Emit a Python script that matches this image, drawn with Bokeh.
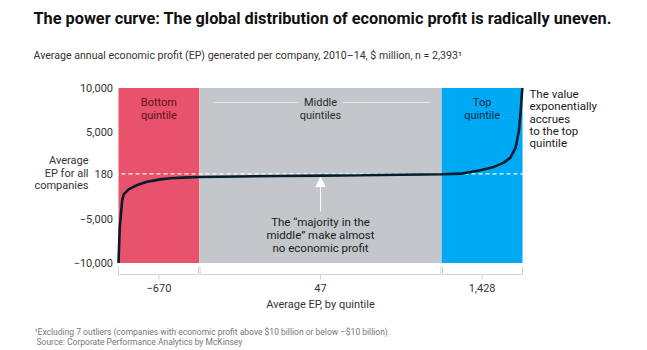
from bokeh.plotting import figure
from bokeh.models import Range1d, Label, Arrow, NormalHead
from bokeh.core.properties import value
from bokeh.embed import file_html
from bokeh.resources import INLINE

# ---------------- data ----------------
quintile_start = [0, 20, 80]
quintile_end = [20, 80, 100]
quintile_colors = ["#E8536B", "#C3C7CC", "#00A9F4"]
quintile_names = [["Bottom", "quintile"], ["Middle", "quintiles"], ["Top", "quintile"]]
quintile_name_colors = ["#5E0F22", "#2A2A2A", "#0B2A4A"]
quintile_centers = [10, 50, 90]
quintile_avg_labels = ["\u2212670", "47", "1,428"]

curve_pct = [0, 0.3, 0.9, 1.3, 2.5, 4.6, 7.1, 10.4, 12.9, 16, 20, 30, 40, 50, 60, 70, 80,
             84.7, 89.6, 92.9, 95.4, 97.0, 98.3, 99.1, 99.5, 99.9, 100]
curve_ep = [-10000, -6000, -2900, -2150, -1580, -1090, -710, -440, -320, -240, -170, -110,
            -60, -15, 30, 85, 150, 210, 600, 980, 1470, 2040, 3190, 5100, 7000, 9700, 10000]

average_ep = 180
y_ticks = [-10000, -5000, 180, 5000, 10000]
y_tick_labels = ["\u221210,000", "\u22125,000", "180", "5,000", "10,000"]

W, H = 647, 350
FONT = "Roboto"

# pixel -> data helpers for annotation placement
def X(px):
    return (px - 118) / 4.04

def Y(py):
    return 20000 - py * 40000 / 350

p = figure(width=W, height=H, output_backend="svg", toolbar_location=None,
           x_range=Range1d(X(0), X(W)), y_range=Range1d(-20000, 20000),
           x_axis_location=None, y_axis_location=None,
           min_border_left=0, min_border_right=0, min_border_top=0, min_border_bottom=0)
p.outline_line_color = None
p.grid.visible = False
p.background_fill_color = "white"
p.border_fill_color = "white"

# y tick labels (value axis)
p.text(x=[X(112.5)] * len(y_ticks), y=y_ticks, text=y_tick_labels, text_align="right",
       text_baseline="middle", text_font=value(FONT), text_font_size="11px",
       text_color="#333333")

# bands
p.quad(left=quintile_start, right=quintile_end, bottom=-10000, top=10000,
       fill_color=quintile_colors, line_color=None)

# band names
for cx, names, col in zip(quintile_centers, quintile_names, quintile_name_colors):
    for i, t in enumerate(names):
        p.add_layout(Label(x=cx, y=Y(102 + 12.5 * i), text=t, text_align="center",
                           text_baseline="middle", text_font=FONT, text_font_size="11px",
                           text_color=col))

# thin white lines around "Middle"
p.segment(x0=[X(213), X(342)], x1=[X(297), X(430)], y0=Y(102), y1=Y(102),
          line_color="white", line_width=0.8, line_alpha=0.7)

# average dashed line
p.segment(x0=[X(114)], x1=[100], y0=average_ep, y1=average_ep,
          line_color="white", line_width=1.2, line_dash="4 3")

# curve
p.line(curve_pct, curve_ep, line_color="#051C2C", line_width=2.6)

# arrow + majority text
p.add_layout(Arrow(end=NormalHead(size=9, fill_color="white", line_color="white"),
                   x_start=50, y_start=Y(211), x_end=50, y_end=Y(177),
                   line_color="white", line_width=1))
for i, t in enumerate(["The \u201cmajority in the", "middle\u201d make almost", "no economic profit"]):
    p.add_layout(Label(x=50, y=Y(221 + 13 * i), text=t, text_align="center",
                       text_baseline="middle", text_font=FONT, text_font_size="11.5px",
                       text_color="#1A1A1A"))

# brackets
gap = 0.2
bx0 = [s + (gap if s > 0 else 0) for s in quintile_start]
bx1 = [e - (gap if e < 100 else 0) for e in quintile_end]
p.segment(x0=bx0, x1=bx1, y0=Y(274), y1=Y(274), line_color="#D2D2D2", line_width=1)
p.segment(x0=bx0 + bx1, x1=bx0 + bx1, y0=Y(266), y1=Y(274), line_color="#D2D2D2", line_width=1)
p.segment(x0=quintile_centers, x1=quintile_centers, y0=Y(274), y1=Y(279),
          line_color="#D2D2D2", line_width=1)
for cx, t in zip(quintile_centers, quintile_avg_labels):
    p.add_layout(Label(x=cx, y=Y(287), text=t, text_align="center", text_baseline="middle",
                       text_font=FONT, text_font_size="11px", text_color="#333333"))
p.add_layout(Label(x=50, y=Y(304), text="Average EP, by quintile", text_align="center",
                   text_baseline="middle", text_font=FONT, text_font_size="11px",
                   text_color="#333333"))

# left annotation
for i, t in enumerate(["Average", "EP for all", "companies"]):
    p.add_layout(Label(x=X(88), y=Y(160 + 12.5 * i), text=t, text_align="right",
                       text_baseline="middle", text_font=FONT, text_font_size="11px",
                       text_color="#333333"))

# right annotation
for i, t in enumerate(["The value", "exponentially", "accrues", "to the top", "quintile"]):
    p.add_layout(Label(x=X(529), y=Y(93.3 + 12.4 * i), text=t, text_align="left",
                       text_baseline="middle", text_font=FONT, text_font_size="11.5px",
                       text_color="#1A1A1A"))

# title, subtitle, footnotes
p.add_layout(Label(x=X(33), y=Y(18), text="The power curve: The global distribution of economic profit is radically uneven.",
                   text_align="left", text_baseline="middle", text_font=FONT,
                   text_font_size="16.3px", text_font_style="bold", text_color="#111111"))
p.add_layout(Label(x=X(33), y=Y(55), text="Average annual economic profit (EP) generated per company, 2010\u201314, $ million, n = 2,393\u00b9",
                   text_align="left", text_baseline="middle", text_font=FONT,
                   text_font_size="10.6px", text_color="#333333"))
p.add_layout(Label(x=X(34), y=Y(331.5), text="\u00b9Excluding 7 outliers (companies with economic profit above $10 billion or below \u2013$10 billion).",
                   text_align="left", text_baseline="middle", text_font=FONT,
                   text_font_size="8.5px", text_color="#777777"))
p.add_layout(Label(x=X(36), y=Y(341.5), text="Source: Corporate Performance Analytics by McKinsey",
                   text_align="left", text_baseline="middle", text_font=FONT,
                   text_font_size="8.5px", text_color="#777777"))

open("out.html", "w").write(file_html(p, INLINE))
